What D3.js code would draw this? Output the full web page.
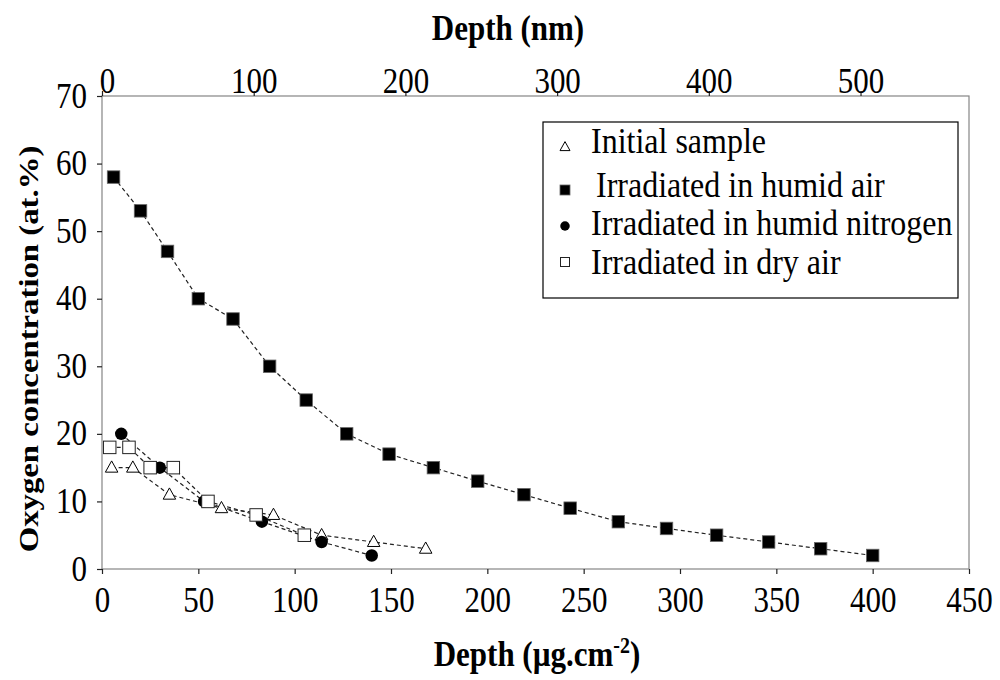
<!DOCTYPE html>
<html>
<head>
<meta charset="utf-8">
<script src="https://cdn.jsdelivr.net/npm/d3@7/dist/d3.min.js"></script>
<style>
  html, body { margin: 0; padding: 0; background: #fff; }
  svg { display: block; }
</style>
</head>
<body>
<svg id="chart" width="1000" height="680"></svg>
<script>
// ---------- data ----------
const seriesNames = ["Initial sample", "Irradiated in humid air", "Irradiated in humid nitrogen", "Irradiated in dry air"];

const initialX  = [5, 16, 35, 62, 89, 114, 141, 168];
const initialY  = [15, 15, 11, 9, 8, 5, 4, 3];

const humidAirX = [6, 20, 34, 50, 68, 87, 106, 127, 149, 172, 195, 219, 243, 268, 293, 319, 346, 373, 400];
const humidAirY = [58, 53, 47, 40, 37, 30, 25, 20, 17, 15, 13, 11, 9, 7, 6, 5, 4, 3, 2];

const humidN2X  = [10, 30, 53, 83, 114, 140];
const humidN2Y  = [20, 15, 10, 7, 4, 2];

const dryAirX   = [4, 14, 25, 37, 55, 80, 105];
const dryAirY   = [18, 18, 15, 15, 10, 8, 5];

const xTicks  = [0, 50, 100, 150, 200, 250, 300, 350, 400, 450];
const yTicks  = [0, 10, 20, 30, 40, 50, 60, 70];
const nmTicks = [0, 100, 200, 300, 400, 500];
const nmPerUg = 1.27;   // nm per µg.cm-2 (top axis conversion)

const xTitle  = "Depth (µg.cm";
const xTitleSup = "-2";
const topTitle = "Depth (nm)";
const yTitle  = "Oxygen concentration (at.%)";

// ---------- layout ----------
const L = 102, R = 969, T = 96, B = 569;
const SY = 1.17;   // vertical stretch of the original text
const SYL = 1.1;   // legend text stretch
const FONT = "'Liberation Serif', 'Times New Roman', serif";

const svg = d3.select("#chart");
svg.append("rect").attr("width", 1000).attr("height", 680).attr("fill", "#fff");

const x = d3.scaleLinear().domain([0, 450]).range([L, R]);
const xNm = d3.scaleLinear().domain([0, 450 * nmPerUg]).range([L, R]);
const y = d3.scaleLinear().domain([0, 70]).range([B, T]);

// frame
svg.append("rect")
  .attr("x", L).attr("y", T).attr("width", R - L).attr("height", B - T)
  .attr("fill", "none").attr("stroke", "#858585").attr("stroke-width", 1.2);

function styleAxis(g) {
  g.select(".domain").remove();
  g.selectAll(".tick line").attr("stroke", "#222").attr("stroke-width", 1.2);
  g.selectAll(".tick text")
    .attr("font-family", FONT).attr("font-size", 31).attr("fill", "#000")
    .attr("x", null).attr("y", 0).attr("dy", null);
}

// bottom axis
const gB = svg.append("g").attr("transform", `translate(0,${B})`)
  .call(d3.axisBottom(x).tickValues(xTicks).tickSize(5).tickFormat(d3.format("d")));
styleAxis(gB);
gB.selectAll(".tick text").attr("text-anchor", "middle")
  .attr("transform", `translate(0,43) scale(1,${SY})`);

// left axis
const gL = svg.append("g").attr("transform", `translate(${L},0)`)
  .call(d3.axisLeft(y).tickValues(yTicks).tickSize(5).tickFormat(d3.format("d")));
styleAxis(gL);
gL.selectAll(".tick text").attr("text-anchor", "end")
  .attr("transform", `translate(-15,11) scale(1,${SY})`);

// top axis
const gT = svg.append("g").attr("transform", `translate(0,${T})`)
  .call(d3.axisTop(xNm).tickValues(nmTicks).tickSize(5).tickFormat(d3.format("d")));
styleAxis(gT);
gT.selectAll(".tick text").attr("text-anchor", "middle")
  .attr("transform", d => `translate(${d === 0 ? 5 : 0},-3) scale(1,${SY})`);

// titles
svg.append("text")
  .attr("transform", `translate(508,40) scale(1,${SY})`)
  .attr("text-anchor", "middle").attr("font-family", FONT)
  .attr("font-size", 31).attr("font-weight", "bold").text(topTitle);

const bt = svg.append("text")
  .attr("transform", `translate(537,666) scale(1,${SY})`)
  .attr("text-anchor", "middle").attr("font-family", FONT)
  .attr("font-size", 31).attr("font-weight", "bold");
bt.append("tspan").text(xTitle);
bt.append("tspan").attr("font-size", 20).attr("dy", -11).text(xTitleSup);
bt.append("tspan").attr("dy", 11).text(")");

svg.append("text")
  .attr("transform", `translate(38,349) rotate(-90) scale(${SY},1)`)
  .attr("text-anchor", "middle").attr("font-family", FONT)
  .attr("font-size", 28).attr("font-weight", "bold").text(yTitle);

// ---------- series ----------
const series = [
  { name: seriesNames[0], xs: initialX,  ys: initialY,  shape: "triangle" },
  { name: seriesNames[1], xs: humidAirX, ys: humidAirY, shape: "fsquare" },
  { name: seriesNames[2], xs: humidN2X,  ys: humidN2Y,  shape: "circle" },
  { name: seriesNames[3], xs: dryAirX,   ys: dryAirY,   shape: "osquare" }
];

const line = d3.line().x(d => x(d[0])).y(d => y(d[1]));

function drawMarker(g, shape, cx, cy, s) {
  if (shape === "triangle") {
    const h = s * 0.9;
    g.append("path")
      .attr("d", `M${cx},${cy - h * 0.6}L${cx + s / 2},${cy + h * 0.4}L${cx - s / 2},${cy + h * 0.4}Z`)
      .attr("fill", "#fff").attr("stroke", "#000").attr("stroke-width", 1);
  } else if (shape === "fsquare") {
    g.append("rect").attr("x", cx - s / 2).attr("y", cy - s / 2).attr("width", s).attr("height", s)
      .attr("fill", "#000").attr("stroke", "#666").attr("stroke-width", 0.8);
  } else if (shape === "circle") {
    g.append("circle").attr("cx", cx).attr("cy", cy).attr("r", s / 2).attr("fill", "#000");
  } else {
    g.append("rect").attr("x", cx - s / 2).attr("y", cy - s / 2).attr("width", s).attr("height", s)
      .attr("fill", "#fff").attr("stroke", "#222").attr("stroke-width", 1);
  }
}

const gLines = svg.append("g");
series.forEach(s => {
  const pts = s.xs.map((v, i) => [v, s.ys[i]]);
  gLines.append("path").attr("d", line(pts))
    .attr("fill", "none").attr("stroke", "#222").attr("stroke-width", 1.2)
    .attr("stroke-dasharray", "4,3");
});

const gMarks = svg.append("g");
series.forEach(s => {
  s.xs.forEach((v, i) => drawMarker(gMarks, s.shape, x(v), y(s.ys[i]), 12.5));
});

// ---------- legend ----------
const lg = svg.append("g");
lg.append("rect").attr("x", 543).attr("y", 122).attr("width", 415).attr("height", 176)
  .attr("fill", "#fff").attr("stroke", "#000").attr("stroke-width", 1.2);

const legendRows = [
  { markY: 147, baseY: 153, textX: 591, size: 10 },
  { markY: 190, baseY: 197, textX: 596, size: 10 },
  { markY: 226, baseY: 235, textX: 591, size: 9.5 },
  { markY: 262, baseY: 274, textX: 591, size: 9 }
];
series.forEach((s, i) => {
  const r = legendRows[i];
  drawMarker(lg, s.shape, 565, r.markY, r.size);
  lg.append("text")
    .attr("transform", `translate(${r.textX},${r.baseY}) scale(1,${SYL})`)
    .attr("font-family", FONT).attr("font-size", 32).text(s.name);
});
</script>
</body>
</html>
